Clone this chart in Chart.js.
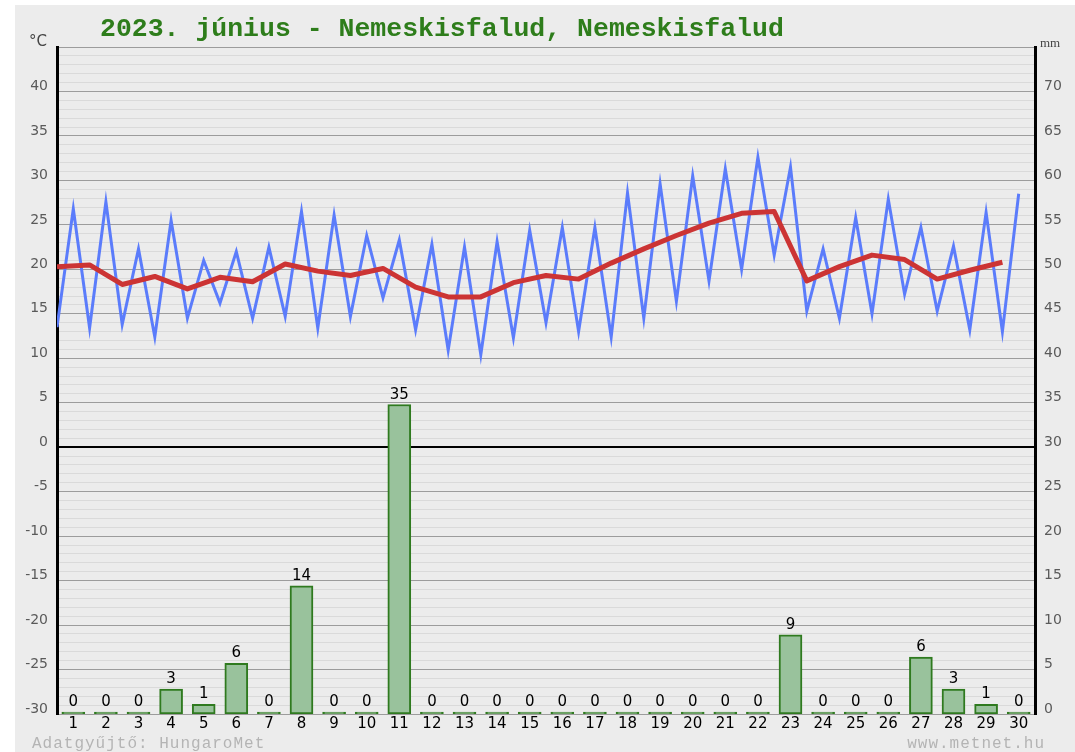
<!DOCTYPE html>
<html>
<head>
<meta charset="utf-8">
<script src="https://cdn.jsdelivr.net/npm/chart.js@4.4.0/dist/chart.umd.min.js"></script>
<style>
  html, body { margin: 0; padding: 0; background: #fff; }
  #wrap { position: absolute; left: 15px; top: 5px; width: 1060px; height: 747px; background: #ececec; }
</style>
</head>
<body>
<div id="wrap"><canvas id="chart"></canvas></div>
<script>
// ===== június 2023 — Nemeskisfalud =====

const days = [1, 2, 3, 4, 5, 6, 7, 8, 9, 10, 11, 12, 13, 14, 15,
              16, 17, 18, 19, 20, 21, 22, 23, 24, 25, 26, 27, 28, 29, 30];

// low value at the start of each day, high value at midday (°C)
const lowT  = [13.5, 13.4, 13.8, 12.4, 14.5, 16.2, 14.5, 14.7, 13.4, 14.7,
               16.8, 13.2, 10.9, 10.4, 12.3, 14.0, 13.0, 12.4, 14.5, 16.4,
               18.7, 20.0, 21.6, 15.3, 14.5, 15.0, 17.2, 15.3, 13.2, 13.0];
const highT = [26.8, 27.6, 22.3, 25.5, 21.0, 22.0, 22.5, 26.5, 26.1, 23.8,
               23.3, 22.8, 22.5, 23.1, 24.4, 24.7, 24.7, 28.6, 29.6, 30.5,
               31.3, 32.6, 31.5, 22.3, 25.8, 27.9, 24.7, 22.6, 26.4, 28.5];
// daily mean (°C)
const meanT = [20.3, 20.5, 18.3, 19.2, 17.8, 19.1, 18.6, 20.6, 19.8, 19.3,
               20.1, 18.0, 16.9, 16.9, 18.5, 19.3, 18.9, 20.7, 22.3, 23.8,
               25.2, 26.3, 26.5, 18.7, 20.3, 21.6, 21.1, 18.9, 19.9, 20.8];
// precipitation (mm)
const rainMm = [0, 0, 0, 2.8, 1.1, 5.7, 0.2, 14.4, 0, 0,
                34.8, 0, 0, 0, 0, 0, 0, 0, 0, 0,
                0, 0, 8.9, 0, 0, 0, 6.4, 2.8, 1.1, 0];

const tempTicks = [-30, -25, -20, -15, -10, -5, 0, 5, 10, 15, 20, 25, 30, 35, 40];
const mmTicks   = [0, 5, 10, 15, 20, 25, 30, 35, 40, 45, 50, 55, 60, 65, 70];

const titleText = '2023. június - Nemeskisfalud, Nemeskisfalud';

const colors = {
  blue:     '#5b7cfb',
  red:      '#cc3434',
  barFill:  '#99c29c',
  barLine:  '#2f7a1f',
  major:    '#9c9c9c',
  minor:    '#dadada',
  axisText: '#5a5a5a',
  title:    '#2e7d1b',
  footer:   '#b4b4b4'
};

// zigzag: low at day start, high at day centre
const zigzag = [];
days.forEach((d, i) => {
  zigzag.push({ x: d - 0.5, y: lowT[i] });
  zigzag.push({ x: d, y: highT[i] });
});

// Text labels above bars + headings
const extrasPlugin = {
  id: 'extras',
  afterDatasetsDraw(chart) {
    const ctx = chart.ctx;
    const meta = chart.getDatasetMeta(2);
    ctx.save();
    ctx.fillStyle = '#000';
    ctx.font = "15px 'DejaVu Sans'";
    ctx.textAlign = 'center';
    ctx.textBaseline = 'alphabetic';
    meta.data.forEach((bar, i) => {
      ctx.fillText(String(Math.round(rainMm[i])), bar.x, bar.y - 6);
    });
    ctx.restore();
  },
  afterDraw(chart) {
    const ctx = chart.ctx;
    const area = chart.chartArea;
    ctx.save();
    // title
    ctx.fillStyle = colors.title;
    ctx.font = "bold 26.5px 'Liberation Mono'";
    ctx.textAlign = 'left';
    ctx.fillText(titleText, area.left + 43, 31);
    // unit captions
    ctx.fillStyle = '#444';
    ctx.font = "15px 'DejaVu Sans'";
    ctx.textAlign = 'right';
    ctx.fillText('°C', area.left - 10, 41);
    ctx.font = "13px 'Liberation Serif'";
    ctx.textAlign = 'left';
    ctx.fillText('mm', area.right + 5, 42);
    // footer
    ctx.fillStyle = colors.footer;
    ctx.font = "16px 'Liberation Mono'";
    ctx.letterSpacing = '1px';
    ctx.textAlign = 'left';
    ctx.fillText('Adatgyűjtő: HungaroMet', 17, 743);
    ctx.textAlign = 'right';
    ctx.fillText('www.metnet.hu', 1030, 743);
    ctx.restore();
  }
};

new Chart(document.getElementById('chart'), {
  data: {
    datasets: [
      {
        type: 'line',
        data: meanT.map((v, i) => ({ x: days[i] - 0.5, y: v })),
        borderColor: colors.red,
        borderWidth: 5,
        borderJoinStyle: 'round',
        pointRadius: 0,
        tension: 0,
        yAxisID: 'y'
      },
      {
        type: 'line',
        data: zigzag,
        borderColor: colors.blue,
        borderWidth: 3,
        pointRadius: 0,
        tension: 0,
        yAxisID: 'y'
      },
      {
        type: 'bar',
        data: rainMm.map((v, i) => ({ x: days[i], y: v })),
        backgroundColor: colors.barFill,
        borderColor: colors.barLine,
        borderWidth: 2,
        borderSkipped: false,
        barThickness: 23,
        minBarLength: 2,
        yAxisID: 'y2'
      }
    ]
  },
  plugins: [extrasPlugin],
  options: {
    responsive: true,
    maintainAspectRatio: false,
    animation: false,
    layout: { padding: { top: 42, left: 0, right: 0, bottom: 0 } },
    plugins: {
      legend: { display: false },
      tooltip: { enabled: false }
    },
    scales: {
      x: {
        type: 'linear',
        offset: false,
        min: 0.5,
        max: 30.5,
        grid: { display: false, drawTicks: false, offset: false },
        border: { display: false },
        afterBuildTicks: s => { s.ticks = days.map(v => ({ value: v })); },
        afterFit: s => { s.height = 38; },
        ticks: {
          color: '#000',
          padding: 1,
          autoSkip: false,
          maxRotation: 0,
          font: { family: "'DejaVu Sans'", size: 15 }
        }
      },
      y: {
        position: 'left',
        min: -30,
        max: 45,
        afterBuildTicks: s => {
          const t = [];
          for (let v = -30; v <= 45; v++) t.push({ value: v });
          s.ticks = t;
        },
        afterFit: s => { s.width = 42; },
        grid: {
          drawTicks: false,
          color: c => c.tick.value === 0 ? '#000' : (c.tick.value % 5 === 0 ? colors.major : colors.minor),
          lineWidth: c => c.tick.value === 0 ? 2 : 1
        },
        border: { display: true, color: '#000', width: 3 },
        ticks: {
          autoSkip: false,
          padding: 9,
          labelOffset: -5,
          color: colors.axisText,
          font: { family: "'DejaVu Sans'", size: 14 },
          callback: v => tempTicks.includes(v) ? String(v) : ''
        }
      },
      y2: {
        position: 'right',
        min: 0,
        max: 75,
        afterBuildTicks: s => { s.ticks = mmTicks.map(v => ({ value: v })); },
        afterFit: s => { s.width = 40; },
        grid: { display: false, drawTicks: false },
        border: { display: true, color: '#000', width: 3 },
        ticks: {
          autoSkip: false,
          padding: 9,
          labelOffset: -5,
          color: colors.axisText,
          font: { family: "'DejaVu Sans'", size: 14 }
        }
      }
    }
  }
});
</script>
</body>
</html>
